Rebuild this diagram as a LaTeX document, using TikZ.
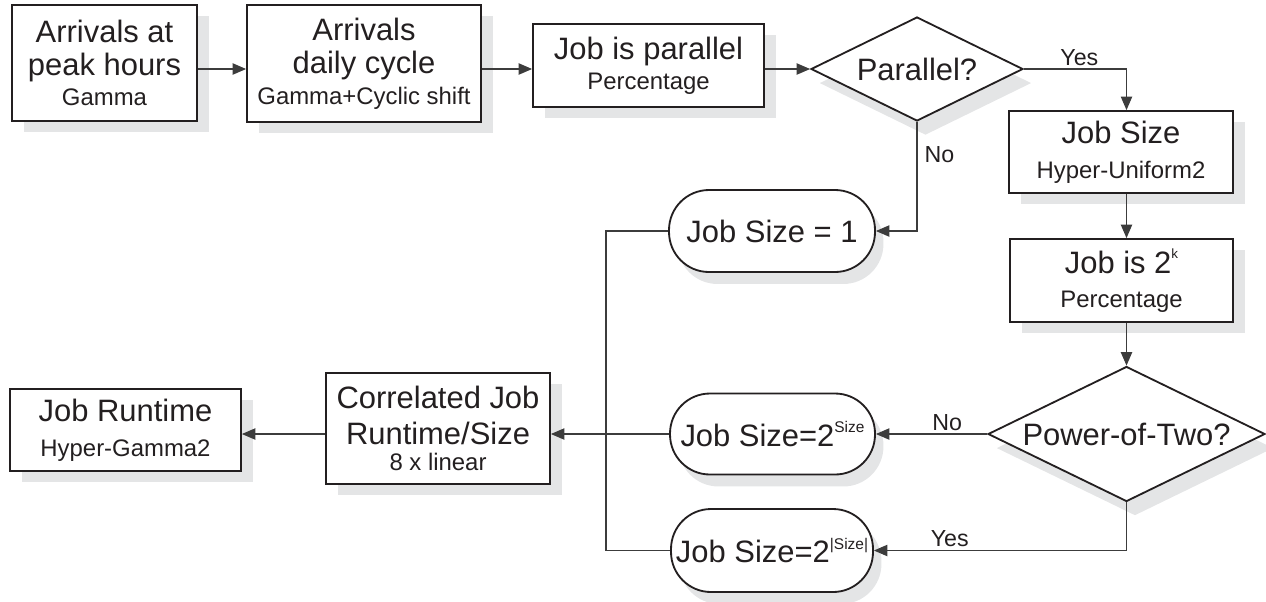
\documentclass[tikz,border=0pt]{standalone}
\usepackage{fontspec}
\setmainfont{Liberation Sans}
\usetikzlibrary{shapes.geometric,shadows,arrows.meta,calc}
\definecolor{ink}{HTML}{231F20}
\definecolor{shade}{HTML}{E4E5E6}
\definecolor{wire}{HTML}{3C3C3C}
\newlength\pxl
\setlength\pxl{0.025cm}
\newcommand\mainf{\fontsize{22}{23.4}\selectfont}
\newcommand\smallf{\fontsize{17}{20}\selectfont}
\newcommand\supf{\fontsize{11}{11}\selectfont}
\newcommand\tinysup{\fontsize{9.5}{10}\selectfont}
\begin{document}
\begin{tikzpicture}[x=0.025cm,y=-0.025cm,
  base/.style={draw=ink, line width=1.3pt, fill=white, text=ink, font=\mainf,
    align=center, inner sep=0pt},
  box/.style={base, rectangle,
    general shadow={fill=shade, shadow xshift=8.5pt, shadow yshift=-8pt}},
  stadium/.style={base, rectangle, rounded corners=40\pxl,
    general shadow={fill=shade, shadow xshift=6pt, shadow yshift=-8.5pt}},
  decision/.style={base, diamond, aspect=2.05,
    general shadow={fill=shade, shadow xshift=6pt, shadow yshift=-10pt}},
  conn/.style={draw=wire, line width=0.8pt},
  arr/.style={conn, -{Triangle[length=9.5pt,width=8pt]}},
  lbl/.style={text=ink, font=\fontsize{16.5}{18}\selectfont, inner sep=2pt}]
\useasboundingbox (0,0) rectangle (1266,601);

% top row: arrival models and the parallel test
\node[box, minimum width=185\pxl, minimum height=116\pxl] (b1) at (104.5,63)
  {Arrivals at\\peak hours\\[-1.5pt]{\smallf Gamma}};
\node[box, minimum width=234\pxl, minimum height=117\pxl] (b2) at (364,63.5)
  {Arrivals\\daily cycle\\[-1.5pt]{\smallf Gamma+Cyclic shift}};
\node[box, minimum width=231\pxl, minimum height=83\pxl] (b3) at (648.5,65.5)
  {Job is parallel\\[-2pt]{\smallf Percentage}};
\node[decision, minimum width=212\pxl, minimum height=104\pxl] (d1) at (917,69)
  {Parallel?};

% right column: size of parallel jobs
\node[box, minimum width=224\pxl, minimum height=82\pxl] (b4) at (1121,152)
  {Job Size\\[1.5pt]{\smallf Hyper-Uniform2}};
\node[box, minimum width=223\pxl, minimum height=83\pxl] (b5) at (1121.5,280.5)
  {Job is 2\raisebox{11pt}{\tinysup k}\\[0.7pt]{\smallf Percentage}};
\node[decision, minimum width=277\pxl, minimum height=135\pxl] (d2) at (1126.5,434)
  {Power-of-Two?};

% resulting job sizes
\node[stadium, minimum width=206\pxl, minimum height=82\pxl] (s1) at (772,231)
  {Job Size = 1};
\node[stadium, minimum width=205\pxl, minimum height=81\pxl] (s2) at (772.5,434)
  {Job Size=2\raisebox{9.5pt}{\supf Size}};
\node[stadium, minimum width=202\pxl, minimum height=83\pxl] (s3) at (772,550.5)
  {Job Size=2\raisebox{9.5pt}{\supf |Size|}};

% runtime models
\node[box, minimum width=224\pxl, minimum height=111\pxl] (b6) at (438,428.5)
  {Correlated Job\\[2pt]Runtime/Size\\[-5pt]{\smallf 8 x linear}};
\node[box, minimum width=231\pxl, minimum height=82\pxl] (b7) at (125.5,430)
  {Job Runtime\\[1.5pt]{\smallf Hyper-Gamma2}};

\coordinate (bus) at (606,434);

% connectors
\draw[arr] (b1.east |- d1.west) -- (b2.west |- d1.west);
\draw[arr] (b2.east |- d1.west) -- (b3.west |- d1.west);
\draw[arr] (b3.east |- d1.west) -- (d1.west);
\draw[arr] (d1.east) -| node[lbl, above, pos=0.27] {Yes} (b4.north -| d2.north);
\draw[arr] (d1.south) |- node[lbl, right, pos=0.15, xshift=3pt] {No} (s1.east);
\draw[arr] (b4.south -| d2.north) -- (b5.north -| d2.north);
\draw[arr] (b5.south -| d2.north) -- (d2.north);
\draw[arr] (d2.west) -- node[lbl, above, pos=0.36] {No} (s2.east);
\draw[arr] (d2.south) |- node[lbl, above, pos=0.85] {Yes} (s3.east);
\draw[conn] (s1.west) -| (bus);
\draw[conn] (s3.west) -| (bus);
\draw[arr] (s2.west) -- (b6.east |- s2.west);
\draw[arr] (b6.west |- s2.west) -- (b7.east |- s2.west);
\end{tikzpicture}
\end{document}
